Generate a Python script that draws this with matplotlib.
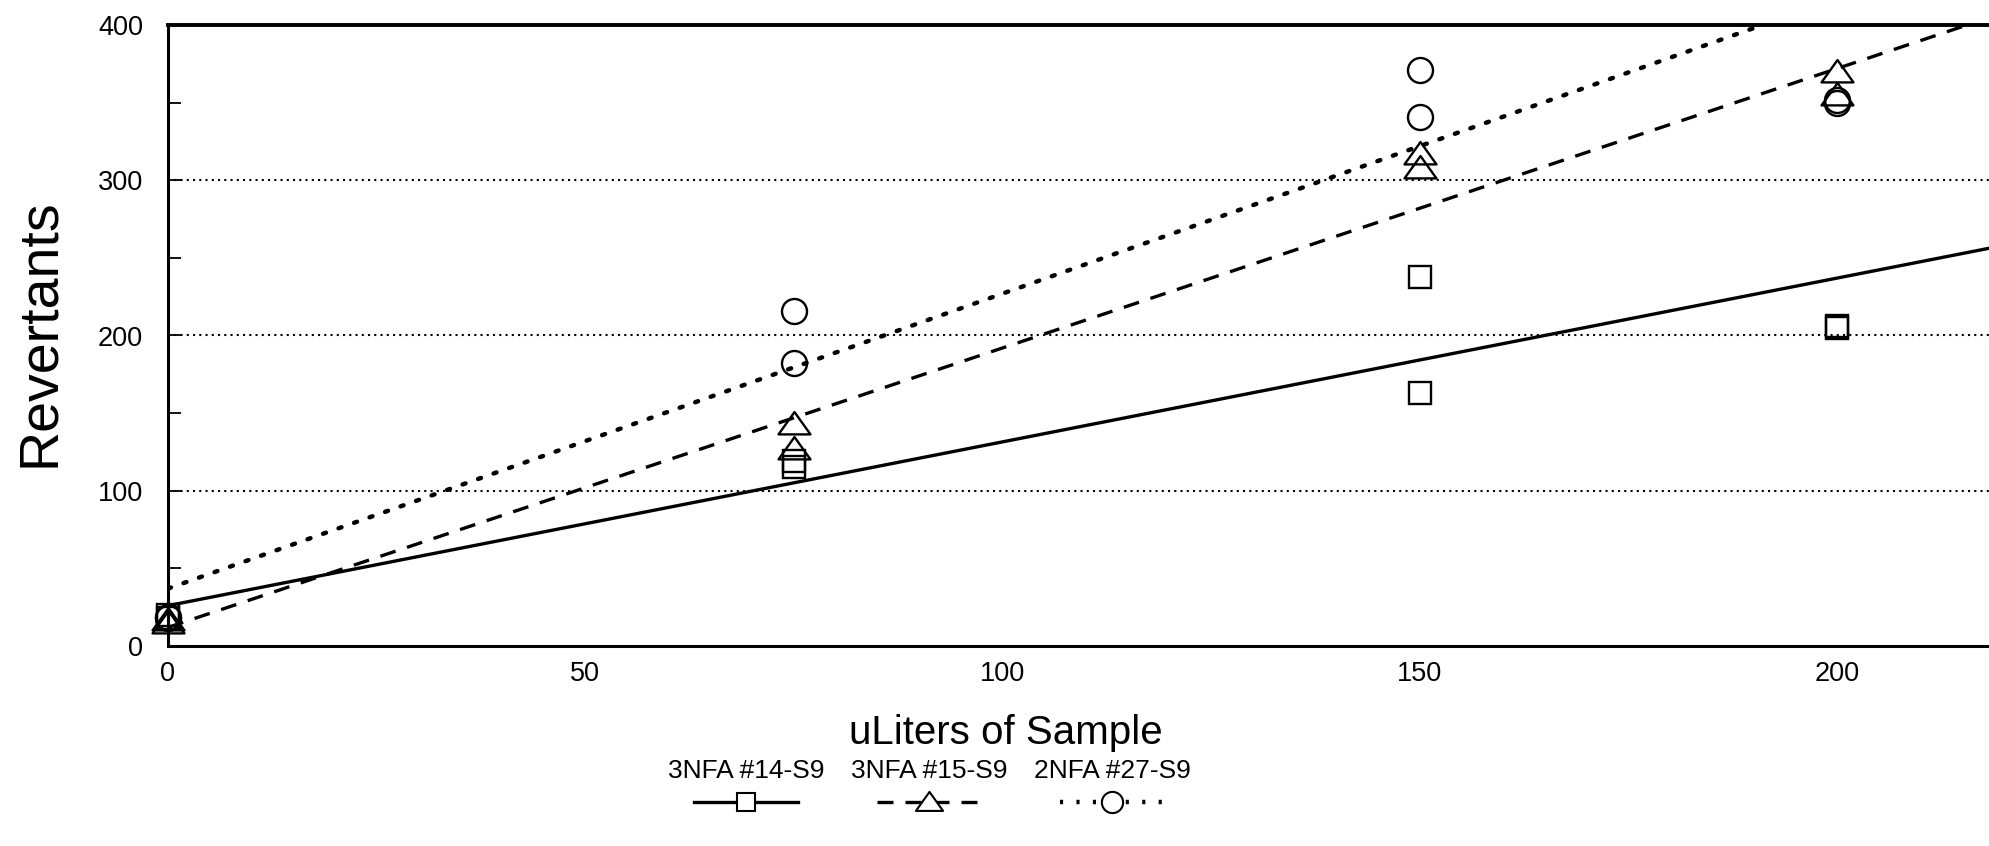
"""Ames test dose-response: revertants vs uLiters of sample, three extracts with S9.

Writes ``out.png`` (1990x846) in the working directory.
"""

from __future__ import annotations

import matplotlib

matplotlib.use("Agg")
import matplotlib.pyplot as plt  # noqa: E402
import numpy as np  # noqa: E402
from matplotlib.lines import Line2D  # noqa: E402
from matplotlib.path import Path as MPath  # noqa: E402

plt.rcParams.update(
    {
        "font.family": ["Liberation Sans", "DejaVu Sans"],
        "axes.linewidth": 2.2,
    }
)

# plate counts (duplicate plates per dose)
doses = [0, 0, 75, 75, 150, 150, 200, 200]
nfa14_counts = [20, 18, 119, 115, 238, 163, 206, 205]
nfa15_counts = [17, 15, 143, 127, 317, 308, 370, 355]
nfa27_counts = [19, 18, 216, 182, 371, 341, 352, 350]

series_labels = ["3NFA #14-S9", "3NFA #15-S9", "2NFA #27-S9"]
# fitted regression lines as drawn on the chart: intercept, slope
fit_intercepts = [26.0, 12.0, 37.0]
fit_slopes = [1.055, 1.80, 1.90]

y_ticks = [0, 100, 200, 300, 400]
x_ticks = [0, 50, 100, 150, 200]

# wide, squat triangle like the original plotting symbol
_TRI = MPath([(-1.0, -0.62), (1.0, -0.62), (0.0, 0.78), (-1.0, -0.62)], closed=True)

STYLES = [
    {"marker": "s", "ms": 16, "ls": "-", "dashes": None, "lw": 2.4},
    {"marker": _TRI, "ms": 23, "ls": "--", "dashes": (4.8, 3.6), "lw": 2.4},
    {"marker": "o", "ms": 18, "ls": ":", "dashes": (0.7, 3.0), "lw": 3.2},
]


def main() -> None:
    fig = plt.figure(figsize=(19.9, 8.46), dpi=100)
    ax = fig.add_axes((168 / 1990, 200 / 846, 1 - 168 / 1990, 621 / 846))

    counts = [nfa14_counts, nfa15_counts, nfa27_counts]
    xfit = np.array([0.0, 230.0])
    for cnt, b0, b1, st in zip(counts, fit_intercepts, fit_slopes, STYLES):
        ax.plot(doses, cnt, ls="none", marker=st["marker"], ms=st["ms"], mfc="none",
                mec="black", mew=1.7, clip_on=False, zorder=3)
        (ln,) = ax.plot(xfit, b0 + b1 * xfit, color="black", lw=st["lw"], ls=st["ls"])
        if st["dashes"]:
            ln.set_dashes(st["dashes"])
        if st["ls"] == ":":
            ln.set_dash_capstyle("round")

    ax.set_xlim(0, 218.3)
    ax.set_ylim(0, 400)
    ax.set_xticks(x_ticks)
    ax.set_yticks(y_ticks)
    ax.set_yticks([50, 150, 250, 350], minor=True)
    ax.tick_params(axis="x", length=0, pad=11, labelsize=19.5)
    ax.tick_params(axis="y", which="both", direction="in", length=9, width=1.3,
                   pad=18, labelsize=19.5)
    for y in y_ticks[1:-1]:
        ax.axhline(y, color="black", lw=1.5, ls=(0, (1, 2.0)), zorder=1)
    ax.spines["right"].set_visible(False)
    ax.spines["top"].set_linewidth(2.8)

    ax.set_xlabel("uLiters of Sample", fontsize=29)
    ax.set_ylabel("Revertants", fontsize=40)
    ax.xaxis.label.set_va("center")
    ax.yaxis.label.set_va("center")
    ax.xaxis.set_label_coords(0.46, -0.14)
    ax.yaxis.set_label_coords(-0.0703, 0.505)

    # legend: label on top, line sample with centred symbol below
    for k, (lab, st) in enumerate(zip(series_labels, STYLES)):
        cx = (746 + 183 * k) / 1990
        fig.text(cx, 1 - 771 / 846, lab, ha="center", va="center", fontsize=19)
        yl = 1 - 802 / 846
        half = 52 / 1990
        ln = Line2D([cx - half, cx + half], [yl, yl], transform=fig.transFigure,
                    color="black", lw=st["lw"], ls=st["ls"])
        if st["dashes"]:
            ln.set_dashes(st["dashes"])
        fig.add_artist(ln)
        fig.add_artist(Line2D([cx], [yl], transform=fig.transFigure, ls="none",
                              marker=st["marker"], ms=st["ms"] * 0.85, mfc="white",
                              mec="black", mew=1.5))

    fig.savefig("out.png", dpi=100)
    plt.close(fig)


if __name__ == "__main__":
    main()
